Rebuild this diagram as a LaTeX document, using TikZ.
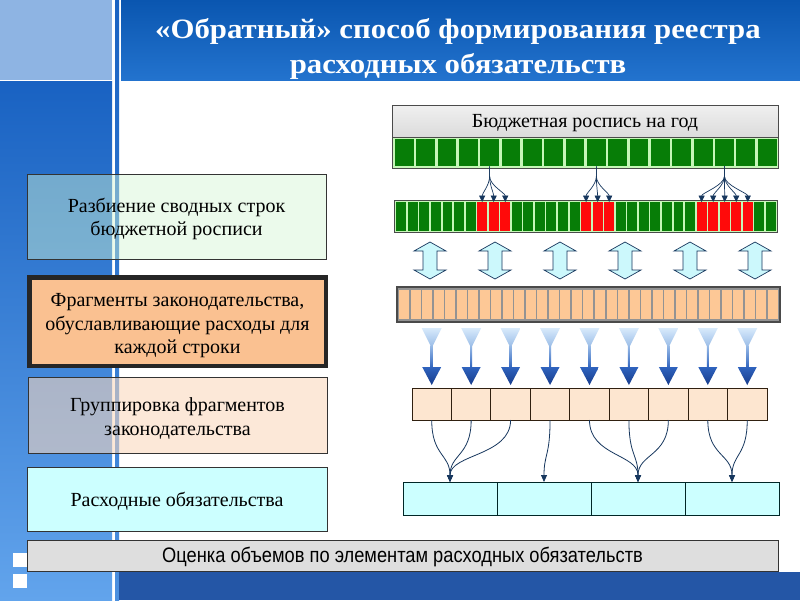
\documentclass[tikz,border=0pt]{standalone}
\usepackage{fontspec}
\usepackage{graphicx}
\setmainfont{Liberation Serif}
\newfontfamily\narrowsans[FakeStretch=0.87]{Liberation Sans}
\usetikzlibrary{arrows.meta,calc}
\newcommand\lowtext[2][3pt]{\raisebox{-#1}[\height][\depth]{\begin{tabular}{@{}c@{}}#2\end{tabular}}}
\definecolor{titletop}{HTML}{0A56B0}
\definecolor{titlebot}{HTML}{2373CE}
\definecolor{striptop}{HTML}{1962C2}
\definecolor{stripbot}{HTML}{62A4EC}
\definecolor{lightblock}{HTML}{8EB4E3}
\definecolor{bandblue}{HTML}{2456A6}
\definecolor{navy}{HTML}{17375E}
\definecolor{dkgreen}{HTML}{077D07}
\definecolor{ltgreen}{HTML}{C6F7B8}
\definecolor{cellred}{HTML}{FF0A0A}
\definecolor{peach}{HTML}{FAC191}
\definecolor{peachlt}{HTML}{FDE6D0}
\definecolor{peachtr}{HTML}{FBD8BC}
\definecolor{cyanlt}{HTML}{CCFFFF}
\definecolor{graylt}{HTML}{DEDEDE}
\definecolor{greentr}{HTML}{D3F6D3}
\definecolor{orangecell}{HTML}{FDC896}
\definecolor{barframe}{HTML}{4A4A4A}
\definecolor{arrowcyan}{HTML}{CCF8FC}
\definecolor{funtop}{HTML}{D8EAFB}
\definecolor{funbot}{HTML}{9CBEE8}
\definecolor{headtop}{HTML}{2F63BE}
\definecolor{headbot}{HTML}{173C8C}
\begin{document}
\begin{tikzpicture}[x=1pt,y=-1pt,
  every node/.style={inner sep=0pt,outer sep=0pt},
  lbox/.style={draw=black!80,line width=0.8pt,align=center,text=black,
    font=\fontsize{20}{23.5}\selectfont},
  gcell/.style={fill=dkgreen,minimum width=18.8pt,minimum height=27.5pt},
  scell/.style={minimum width=9.95pt,minimum height=28.5pt},
  ocell/.style={fill=orangecell,minimum width=10pt,minimum height=29pt},
  pbox/.style={draw=black!75!brown,line width=0.9pt,fill=peachlt,minimum width=39.44pt,minimum height=32pt},
  cbox/.style={draw=black!70!teal,line width=0.8pt,fill=cyanlt,minimum width=94pt,minimum height=33pt},
  splitarrow/.style={draw=navy,line width=0.7pt,-{Triangle[width=6pt,length=6.5pt]}},
  grouparrow/.style={draw=navy,line width=0.8pt,-{Triangle[width=6pt,length=7pt]}},
  dblarrow/.style={draw=navy,line width=0.7pt,fill=arrowcyan},
]
\useasboundingbox (0,0) rectangle (800,600);
% background
\fill[white] (0,0) rectangle (800,600);
\fill[lightblock] (0,0) rectangle (112,80);
\shade[top color=striptop,bottom color=stripbot] (0,81.5) rectangle (112,600);
\shade[top color=striptop,bottom color=stripbot!70!striptop] (115,0) rectangle (119,600);
\shade[top color=titletop,bottom color=titlebot] (121,0) rectangle (800,80);
\fill[bandblue] (119,572) rectangle (800,600);
\fill[white] (13,553) rectangle (27,567);
\fill[white] (13,574) rectangle (27,588);
% title
\node[text=white,font=\bfseries\fontsize{28}{35}\selectfont,align=center] (title) at (458,49)
  {\scalebox{1.1}[1]{«Обратный» способ формирования реестра}\\\scalebox{1.1}[1]{расходных обязательств}};
% left boxes
\node[lbox,fill=greentr,fill opacity=0.45,text opacity=1,minimum width=299pt,minimum height=85pt] (b1) at (176.5,216.5)
  {\lowtext{Разбиение сводных строк\\бюджетной росписи}};
\node[lbox,draw=black!85,line width=4.5pt,fill=peach,minimum width=296.5pt,minimum height=88.5pt] (b2) at (177.5,321.5)
  {\lowtext[4pt]{Фрагменты законодательства,\\обуславливающие расходы для\\каждой строки}};
\node[lbox,fill=peachtr,fill opacity=0.57,text opacity=1,minimum width=299pt,minimum height=76pt] (b3) at (177.5,415)
  {\lowtext[4pt]{Группировка фрагментов\\законодательства}};
\node[lbox,fill=cyanlt,minimum width=300pt,minimum height=64pt] (b4) at (177,499)
  {\lowtext{Расходные обязательства}};
\node[draw=black!80,line width=0.8pt,fill=graylt,minimum width=751pt,minimum height=31pt,
  font=\narrowsans\fontsize{21}{24}\selectfont] (b5) at (402.5,555.5)
  {\lowtext[2.5pt]{Оценка объемов по элементам расходных обязательств}};
% header and bar 1
\node[draw=barframe,line width=0.8pt,top color=gray!12,bottom color=gray!28,minimum width=386pt,minimum height=32pt,
  font=\fontsize{20}{22}\selectfont] (hdr) at (585,121) {\lowtext[2.5pt]{Бюджетная роспись на год}};
\node[draw=barframe,line width=0.8pt,fill=ltgreen,minimum width=386pt,minimum height=31pt] (bar1) at (585,152.5) {};
\foreach \i in {0,...,17} \node[gcell] (t\i) at ({404.2+21.35*\i},152.5) {};
% bar 2
\node[draw=barframe,line width=0.8pt,fill=ltgreen,minimum width=382.6pt,minimum height=31.3pt] (bar2) at (586,216.35) {};
\foreach \i in {0,...,32}{
  \def\cc{dkgreen}
  \ifnum\i>6 \ifnum\i<10 \def\cc{cellred}\fi\fi
  \ifnum\i>15 \ifnum\i<19 \def\cc{cellred}\fi\fi
  \ifnum\i>25 \ifnum\i<31 \def\cc{cellred}\fi\fi
  \node[scell,fill=\cc] (s\i) at ({401.3+11.55*\i},216.35) {};
}
\foreach \src/\dst in {4/7,4/8,4/9,9/16,9/17,9/18,15/26,15/27,15/28,15/29,15/30}
  \draw[splitarrow] (t\src.south) -- ++(0,10) .. controls +(0,9) and +(0,-9) .. (s\dst.north);
% double arrows
\foreach \k in {0,...,5}{
  \pgfmathsetmacro\cx{430+65*\k}
  \draw[dblarrow] (\cx,242) -- (\cx+16,251) -- (\cx+7,251) -- (\cx+7,270) -- (\cx+16,270) -- (\cx,279)
    -- (\cx-16,270) -- (\cx-7,270) -- (\cx-7,251) -- (\cx-16,251) -- cycle;
}
% gray/orange bar
\node[draw=barframe,line width=1.5pt,fill=gray!85,minimum width=383pt,minimum height=35pt] (bar3) at (588.5,304.5) {};
\foreach \i in {0,...,32} \node[ocell] (o\i) at ({404+11.53*\i},304.5) {};
% peach boxes
\foreach \i in {0,...,8} \node[pbox] (p\i) at ({412+39.44*(\i+0.5)},404) {};
% blue down arrows
\foreach \i in {0,...,8}{
  \pgfmathsetmacro\cx{412+39.44*(\i+0.5)}
  \shade[top color=funtop,bottom color=funbot] (\cx-10,328) -- (\cx+10,328) -- (\cx+1,346) -- (\cx-1,346) -- cycle;
  \shade[top color=funbot,bottom color=headtop] (\cx-1,345) rectangle (\cx+1,368);
  \shade[top color=headtop,bottom color=headbot] (\cx-9.5,367) -- (\cx+9.5,367) -- (\cx,385) -- cycle;
}
% cyan boxes
\foreach \j in {0,...,3} \node[cbox] (c\j) at ({403+94*(\j+0.5)},498.5) {};
\foreach \src/\dst in {0/0,1/0,2/0,3/1,4/2,5/2,6/2,7/3,8/3}
  \draw[grouparrow] (p\src.south) .. controls +(0,36) and +(0,-28) .. (c\dst.north);
\end{tikzpicture}
\end{document}
